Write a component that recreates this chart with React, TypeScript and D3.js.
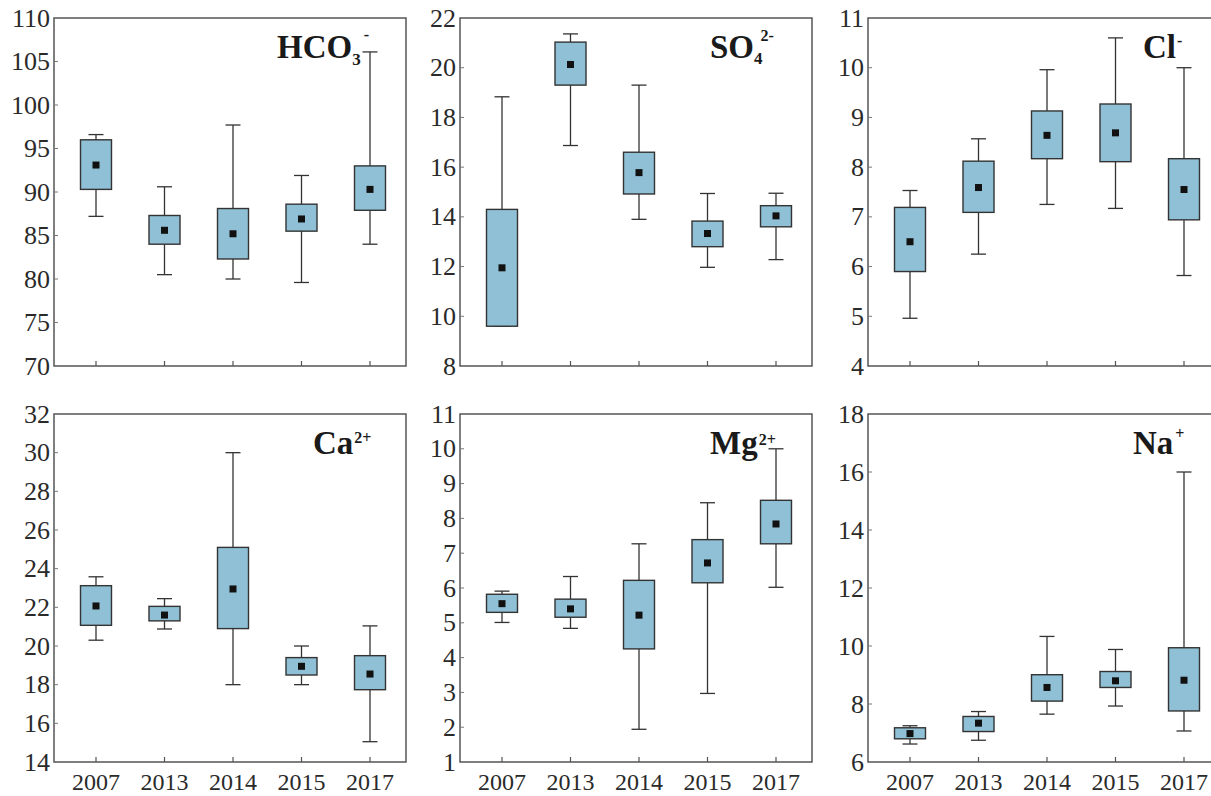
import React from "react";
import * as d3 from "d3";

// ---------- data ----------
const years = ["2007", "2013", "2014", "2015", "2017"];

// each entry: [min, q1, median, q3, max]
const hco3 = [
  [87.2, 90.3, 93.1, 96.0, 96.6],
  [80.5, 84.0, 85.6, 87.3, 90.6],
  [80.0, 82.3, 85.2, 88.1, 97.7],
  [79.6, 85.5, 86.9, 88.6, 91.9],
  [84.0, 87.9, 90.3, 93.0, 106.1],
];
const so4 = [
  [9.6, 9.6, 11.95, 14.3, 18.83],
  [16.87, 19.3, 20.13, 21.03, 21.36],
  [13.9, 14.92, 15.78, 16.6, 19.3],
  [11.97, 12.8, 13.33, 13.83, 14.94],
  [12.28, 13.6, 14.04, 14.45, 14.95],
];
const cl = [
  [4.96, 5.9, 6.5, 7.19, 7.53],
  [6.25, 7.09, 7.59, 8.12, 8.57],
  [7.25, 8.17, 8.64, 9.13, 9.96],
  [7.17, 8.11, 8.69, 9.27, 10.6],
  [5.82, 6.94, 7.55, 8.17, 10.0],
];
const ca = [
  [20.3, 21.07, 22.07, 23.12, 23.58],
  [20.88, 21.3, 21.6, 22.05, 22.45],
  [18.0, 20.9, 22.95, 25.1, 30.0],
  [18.0, 18.5, 18.95, 19.4, 20.0],
  [15.05, 17.74, 18.55, 19.5, 21.04],
];
const mg = [
  [5.01, 5.3, 5.55, 5.82, 5.91],
  [4.84, 5.16, 5.4, 5.68, 6.33],
  [1.94, 4.25, 5.22, 6.22, 7.27],
  [2.97, 6.15, 6.72, 7.39, 8.45],
  [6.02, 7.27, 7.84, 8.52, 10.0],
];
const na = [
  [6.62, 6.8, 6.98, 7.18, 7.25],
  [6.75, 7.05, 7.34, 7.57, 7.74],
  [7.65, 8.1, 8.57, 9.01, 10.33],
  [7.93, 8.57, 8.8, 9.12, 9.88],
  [7.07, 7.76, 8.82, 9.94, 16.0],
];

const hco3Ticks = [70, 75, 80, 85, 90, 95, 100, 105, 110];
const so4Ticks = [8, 10, 12, 14, 16, 18, 20, 22];
const clTicks = [4, 5, 6, 7, 8, 9, 10, 11];
const caTicks = [14, 16, 18, 20, 22, 24, 26, 28, 30, 32];
const mgTicks = [1, 2, 3, 4, 5, 6, 7, 8, 9, 10, 11];
const naTicks = [6, 8, 10, 12, 14, 16, 18];

type Title = { main: string; sub?: string; sup?: string };

const panels = [
  { stats: hco3, ticks: hco3Ticks, title: { main: "HCO", sub: "3", sup: "-" } as Title, col: 0, row: 0, tx: 277, supDx: 3, supDy: -25, subDy: 7 },
  { stats: so4, ticks: so4Ticks, title: { main: "SO", sub: "4", sup: "2-" } as Title, col: 1, row: 0, tx: 710, supDx: -2, supDy: -23, subDy: 6 },
  { stats: cl, ticks: clTicks, title: { main: "Cl", sup: "-" } as Title, col: 2, row: 0, tx: 1143, supDx: 1, supDy: -12, subDy: 0 },
  { stats: ca, ticks: caTicks, title: { main: "Ca", sup: "2+" } as Title, col: 0, row: 1, tx: 313, supDx: 1, supDy: -11, subDy: 0 },
  { stats: mg, ticks: mgTicks, title: { main: "Mg", sup: "2+" } as Title, col: 1, row: 1, tx: 710, supDx: 1, supDy: -9, subDy: 0 },
  { stats: na, ticks: naTicks, title: { main: "Na", sup: "+" } as Title, col: 2, row: 1, tx: 1133, supDx: 2, supDy: -15, subDy: 0 },
];

// ---------- layout ----------
const W = 1211;
const H = 796;
const colLeft = [54, 460, 868];
const rowTop = [18, 414];
const PW = 352;
const PH = 348;
const BOX_W = 31;
const CAP_W = 15;
const MED = 7;
const FILL = "#8fc0d5";
const STROKE = "#333";
const FRAME = "#555";
const SERIF = "'Liberation Serif', 'Times New Roman', Times, serif";

function Panel({ p }: { p: (typeof panels)[number] }) {
  const left = colLeft[p.col];
  const top = rowTop[p.row];
  const bottom = top + PH;
  const x = d3.scalePoint<string>().domain(years).range([left + 42, left + 316]);
  const y = d3
    .scaleLinear()
    .domain([d3.min(p.ticks)!, d3.max(p.ticks)!])
    .range([bottom, top]);
  const baseline = top + 40;
  return (
    <g>
      <rect x={left} y={top} width={PW} height={PH} fill="none" stroke={FRAME} strokeWidth={1.5} />
      {p.ticks.map((t) => (
        <g key={"yt" + t}>
          {y(t) > top + 1 && y(t) < bottom - 1 && (
            <line x1={left} x2={left + 4} y1={y(t)} y2={y(t)} stroke="#777" strokeWidth={1} />
          )}
          <text
            x={left - 4}
            y={y(t)}
            textAnchor="end"
            dominantBaseline="central"
            fontFamily={SERIF}
            fontSize={26}
            fill="#2a2a2a"
          >
            {t}
          </text>
        </g>
      ))}
      {years.map((yr) => (
        <line key={"xt" + yr} x1={x(yr)} x2={x(yr)} y1={bottom} y2={bottom - 5} stroke="#555" strokeWidth={1.2} />
      ))}
      {p.row === 1 &&
        years.map((yr) => (
          <text key={"xl" + yr} x={x(yr)} y={790} textAnchor="middle" fontFamily={SERIF} fontSize={24} fill="#2a2a2a">
            {yr}
          </text>
        ))}
      {p.stats.map((s, i) => {
        const cx = x(years[i])!;
        const [mn, q1, md, q3, mx] = s;
        return (
          <g key={"b" + i}>
            <line x1={cx} x2={cx} y1={y(mx)} y2={y(q3)} stroke={STROKE} strokeWidth={1.3} />
            <line x1={cx} x2={cx} y1={y(q1)} y2={y(mn)} stroke={STROKE} strokeWidth={1.3} />
            <line x1={cx - CAP_W / 2} x2={cx + CAP_W / 2} y1={y(mx)} y2={y(mx)} stroke={STROKE} strokeWidth={1.3} />
            <line x1={cx - CAP_W / 2} x2={cx + CAP_W / 2} y1={y(mn)} y2={y(mn)} stroke={STROKE} strokeWidth={1.3} />
            <rect
              x={cx - BOX_W / 2}
              y={y(q3)}
              width={BOX_W}
              height={y(q1) - y(q3)}
              fill={FILL}
              stroke={STROKE}
              strokeWidth={1.4}
            />
            <rect x={cx - MED / 2} y={y(md) - MED / 2} width={MED} height={MED} fill="#111" />
          </g>
        );
      })}
      <text x={p.tx} y={baseline} fontFamily={SERIF} fontWeight="bold" fontSize={33} fill="#1a1a1a">
        <tspan>{p.title.main}</tspan>
        {p.title.sub && (
          <tspan fontSize={17} dy={p.subDy}>
            {p.title.sub}
          </tspan>
        )}
        {p.title.sup && (
          <tspan fontSize={16} dx={p.supDx} dy={p.supDy}>
            {p.title.sup}
          </tspan>
        )}
      </text>
    </g>
  );
}

export default function App() {
  return (
    <svg
      width={W}
      height={H}
      viewBox={`0 0 ${W} ${H}`}
      style={{ position: "absolute", left: 0, top: 0, background: "#fff" }}
    >
      <rect x={0} y={0} width={W} height={H} fill="#fff" />
      {panels.map((p, i) => (
        <Panel key={i} p={p} />
      ))}
    </svg>
  );
}
